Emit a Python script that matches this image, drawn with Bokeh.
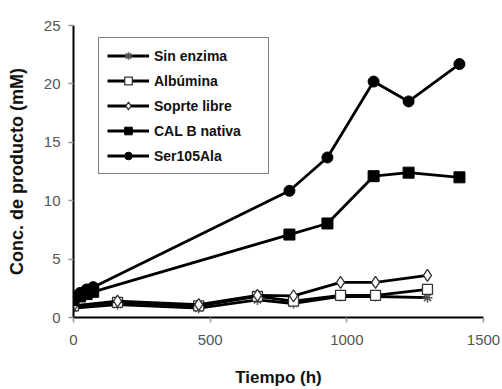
from bokeh.plotting import figure
from bokeh.models import Range1d, FixedTicker, Legend, LegendItem
from bokeh.embed import file_html
from bokeh.resources import INLINE

# Data
x_high = [0, 24, 48, 72, 790, 929, 1098, 1226, 1412]
ser105ala = [1.7, 2.1, 2.4, 2.6, 10.85, 13.7, 20.2, 18.5, 21.7]
cal_b = [1.5, 1.8, 2.0, 2.2, 7.1, 8.05, 12.1, 12.4, 12.0]

x_low = [0, 161, 458, 673, 805, 977, 1105, 1295]
soprte = [1.0, 1.4, 1.1, 1.9, 1.85, 3.0, 3.0, 3.6]
albumina = [1.0, 1.3, 1.0, 1.8, 1.4, 1.9, 1.9, 2.4]
sin_enzima = [0.8, 1.1, 0.8, 1.5, 1.2, 1.8, 1.8, 1.7]

x_ticks = [0, 500, 1000, 1500]
y_ticks = [0, 5, 10, 15, 20, 25]

FONT = "Liberation Sans"

p = figure(width=502, height=389, output_backend="svg", toolbar_location=None,
           x_range=Range1d(0, 1500), y_range=Range1d(0, 25),
           min_border_left=73, min_border_right=19, min_border_top=25, min_border_bottom=69)
p.outline_line_color = None
p.xgrid.grid_line_color = None
p.ygrid.grid_line_color = None

for ax in (p.xaxis, p.yaxis):
    ax.axis_line_color = "black"
    ax.axis_line_width = 2
    ax.major_tick_line_color = "#999999"
    ax.major_tick_line_width = 1.5
    ax.major_tick_in = 0
    ax.major_tick_out = 5
    ax.minor_tick_line_color = None
    ax.major_label_text_font = FONT
    ax.major_label_text_font_size = "15px"
    ax.major_label_text_color = "#555555"
    ax.axis_label_text_font = FONT
    ax.axis_label_text_font_size = "17px"
    ax.axis_label_text_font_style = "bold"
    ax.axis_label_text_color = "#111111"

p.xaxis.ticker = FixedTicker(ticks=x_ticks)
p.yaxis.ticker = FixedTicker(ticks=y_ticks)
p.xaxis.axis_label = "Tiempo (h)"
p.yaxis.axis_label = "Conc. de producto (mM)"
p.yaxis.axis_label_text_font_size = "18px"
p.xaxis.major_label_standoff = 12
p.yaxis.major_label_standoff = 8
p.xaxis.axis_label_standoff = 20
p.yaxis.axis_label_standoff = 14

LW = 2.8
items = []

r1 = p.line(x_low, sin_enzima, line_color="black", line_width=LW)
m1 = p.scatter(x_low, sin_enzima, marker="asterisk", size=10, line_color="#555555", line_width=1.5)
items.append(LegendItem(label="Sin enzima", renderers=[r1, m1]))

r2 = p.line(x_low, albumina, line_color="black", line_width=LW)
m2 = p.scatter(x_low, albumina, marker="square", size=10, fill_color="white", line_color="#333333", line_width=1.3)
items.append(LegendItem(label="Albúmina", renderers=[r2, m2]))

r3 = p.line(x_low, soprte, line_color="black", line_width=LW)
m3 = p.scatter(x_low, soprte, marker="diamond", size=12, fill_color="white", line_color="#333333", line_width=1.3)
items.append(LegendItem(label="Soprte libre", renderers=[r3, m3]))

r4 = p.line(x_high, cal_b, line_color="black", line_width=LW)
m4 = p.scatter(x_high, cal_b, marker="square", size=11, fill_color="black", line_color="black")
items.append(LegendItem(label="CAL B nativa", renderers=[r4, m4]))

r5 = p.line(x_high, ser105ala, line_color="black", line_width=LW)
m5 = p.scatter(x_high, ser105ala, marker="circle", size=11, fill_color="black", line_color="black")
items.append(LegendItem(label="Ser105Ala", renderers=[r5, m5]))

legend = Legend(items=items, location=(25, 143))
legend.padding = 8
legend.spacing = 6
legend.label_height = 19
legend.glyph_height = 19
legend.glyph_width = 42
legend.label_standoff = 5
legend.label_width = 106
legend.label_text_font = FONT
legend.label_text_font_size = "14px"
legend.label_text_font_style = "bold"
legend.label_text_color = "#111111"
legend.border_line_color = "black"
legend.border_line_width = 1.5
legend.background_fill_color = "white"
legend.background_fill_alpha = 1
p.add_layout(legend, "center")

open("out.html", "w").write(file_html(p, INLINE))
